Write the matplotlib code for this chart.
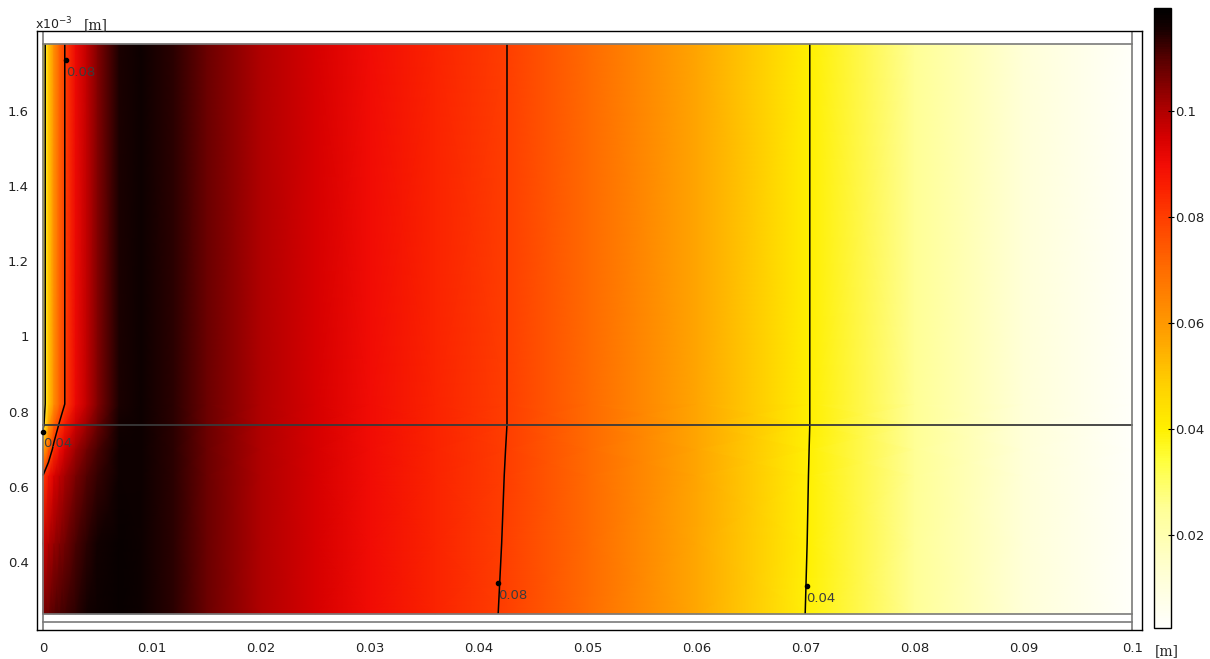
import numpy as np
import matplotlib
matplotlib.use("Agg")
import matplotlib.pyplot as plt
from matplotlib.colors import LinearSegmentedColormap, Normalize
from matplotlib.ticker import FuncFormatter

# grid nodes of the field: x in m, y in 1e-3 m
x_nodes = [0, 0.0005, 0.001, 0.0015, 0.002, 0.003, 0.004, 0.005, 0.007, 0.009,
           0.012, 0.015, 0.02, 0.025, 0.03, 0.036, 0.0426, 0.05, 0.06, 0.0704,
           0.08, 0.09, 0.1]
y_nodes = [0.262, 0.45, 0.63, 0.70, 0.765, 0.82, 1.777]

# field values [m] along each row of nodes, bottom to top
row_bottom = [0.106, 0.108, 0.110, 0.111, 0.112, 0.114, 0.116, 0.117, 0.118, 0.117,
              0.114, 0.108, 0.100, 0.095, 0.090, 0.085, 0.0793, 0.0705, 0.0565, 0.0393,
              0.0247, 0.012, 0.003]
row_045 = [0.096, 0.100, 0.103, 0.105, 0.107, 0.111, 0.114, 0.116, 0.118, 0.117,
           0.114, 0.108, 0.100, 0.095, 0.090, 0.085, 0.0796, 0.0707, 0.0567, 0.0396,
           0.0248, 0.012, 0.003]
row_063 = [0.080, 0.088, 0.094, 0.098, 0.101, 0.106, 0.110, 0.113, 0.117, 0.117,
           0.114, 0.108, 0.100, 0.095, 0.090, 0.085, 0.0798, 0.0709, 0.0569, 0.0398,
           0.025, 0.012, 0.003]
row_070 = [0.056, 0.072, 0.083, 0.090, 0.095, 0.102, 0.107, 0.111, 0.117, 0.117,
           0.114, 0.108, 0.100, 0.095, 0.090, 0.085, 0.0799, 0.071, 0.057, 0.0399,
           0.025, 0.012, 0.003]
row_interface = [0.036, 0.058, 0.072, 0.081, 0.087, 0.096, 0.102, 0.108, 0.116, 0.117,
                 0.114, 0.108, 0.100, 0.095, 0.090, 0.085, 0.080, 0.071, 0.057, 0.040,
                 0.025, 0.012, 0.003]
row_top = [0.033, 0.050, 0.062, 0.072, 0.080, 0.091, 0.098, 0.105, 0.115, 0.117,
           0.114, 0.108, 0.100, 0.095, 0.090, 0.085, 0.080, 0.071, 0.057, 0.040,
           0.025, 0.012, 0.003]

contour_levels = [0.04, 0.08]
cbar_ticks = [0.02, 0.04, 0.06, 0.08, 0.1]
x_ticks = [0, 0.01, 0.02, 0.03, 0.04, 0.05, 0.06, 0.07, 0.08, 0.09, 0.1]
y_ticks = [0.4, 0.6, 0.8, 1.0, 1.2, 1.4, 1.6]

# colour scale stops (value, rgb)
cmap_values = [0.0025, 0.012, 0.025, 0.034, 0.040, 0.048, 0.057, 0.071, 0.080,
               0.086, 0.090, 0.095, 0.100, 0.110, 0.116, 0.1195]
cmap_rgb = [(255, 255, 252), (255, 255, 215), (255, 255, 150), (255, 255, 60),
            (255, 240, 0), (255, 210, 0), (255, 165, 0), (255, 105, 0), (255, 62, 0),
            (250, 30, 0), (242, 12, 5), (215, 0, 0), (178, 0, 0), (88, 0, 0),
            (20, 0, 0), (0, 0, 0)]

vmin, vmax = cmap_values[0], cmap_values[-1]
stops = [((v - vmin) / (vmax - vmin), tuple(c / 255.0 for c in rgb))
         for v, rgb in zip(cmap_values, cmap_rgb)]
cmap = LinearSegmentedColormap.from_list("heat", stops)
norm = Normalize(vmin=vmin, vmax=vmax)

Z = np.array([row_bottom, row_045, row_063, row_070, row_interface, row_top, row_top])
X, Y = np.meshgrid(x_nodes, y_nodes)

fig = plt.figure(figsize=(12.1, 6.59), dpi=100)
ax = fig.add_axes([37 / 1210, 1 - 630 / 659, 1105 / 1210, 599 / 659])
cax = fig.add_axes([1154 / 1210, 1 - 628 / 659, 17 / 1210, 620 / 659])

mesh = ax.pcolormesh(X, Y, Z, cmap=cmap, norm=norm, shading="gouraud")
cs = ax.contour(x_nodes, y_nodes, Z, levels=contour_levels, colors="k", linewidths=1.1)

ax.set_xlim(-0.00055, 0.1009)
ax.set_ylim(0.219, 1.812)

# subdomain boundaries
edge = "#7a7a7a"
ax.plot([0, 0.1], [0.765, 0.765], color="#3a3a3a", lw=1.3)
ax.plot([0, 0], [0.219, 1.812], color=edge, lw=1.2)
ax.plot([0.1, 0.1], [0.219, 1.812], color=edge, lw=1.2)
ax.plot([0, 0.1], [1.778, 1.778], color=edge, lw=1.2)
ax.plot([0, 0.1], [0.262, 0.262], color=edge, lw=1.2)
ax.plot([0, 0.1], [0.240, 0.240], color=edge, lw=1.2)

# contour labels
label_spots = [(0.0021, 1.735, "0.08"), (0.0, 0.746, "0.04"),
               (0.0418, 0.344, "0.08"), (0.0701, 0.336, "0.04")]
for lx, ly, txt in label_spots:
    ax.plot(lx, ly, "o", color="k", ms=3)
    ax.annotate(txt, (lx, ly), xytext=(0, -4), textcoords="offset points",
                ha="left", va="top", fontsize=9.5, color="#3c3c3c")

fmt = FuncFormatter(lambda v, p: "%g" % round(v, 4))
ax.set_xticks(x_ticks)
ax.set_yticks(y_ticks)
ax.xaxis.set_major_formatter(fmt)
ax.yaxis.set_major_formatter(fmt)
ax.tick_params(length=0, labelsize=9.5, labelcolor="#222222")
ax.tick_params(axis="x", pad=9)
ax.tick_params(axis="y", pad=6)
for s in ax.spines.values():
    s.set_linewidth(1.0)

cb = fig.colorbar(mesh, cax=cax, ticks=cbar_ticks)
cb.ax.yaxis.set_major_formatter(fmt)
cb.ax.tick_params(direction="inout", length=4, width=0.8, labelsize=9.5,
                  labelcolor="#222222", pad=1)
cb.outline.set_linewidth(1.0)

fig.text(35 / 1210, 1 - 29 / 659, r"x10$^{-3}$", fontsize=9, color="#222222")
fig.text(84 / 1210, 1 - 29 / 659, "[m]", fontsize=10, family="DejaVu Serif",
         color="#222222")
fig.text(1155 / 1210, 1 - 651 / 659, "[m]", fontsize=10, family="DejaVu Serif",
         color="#222222", va="center")

fig.savefig("out.png", dpi=100)
